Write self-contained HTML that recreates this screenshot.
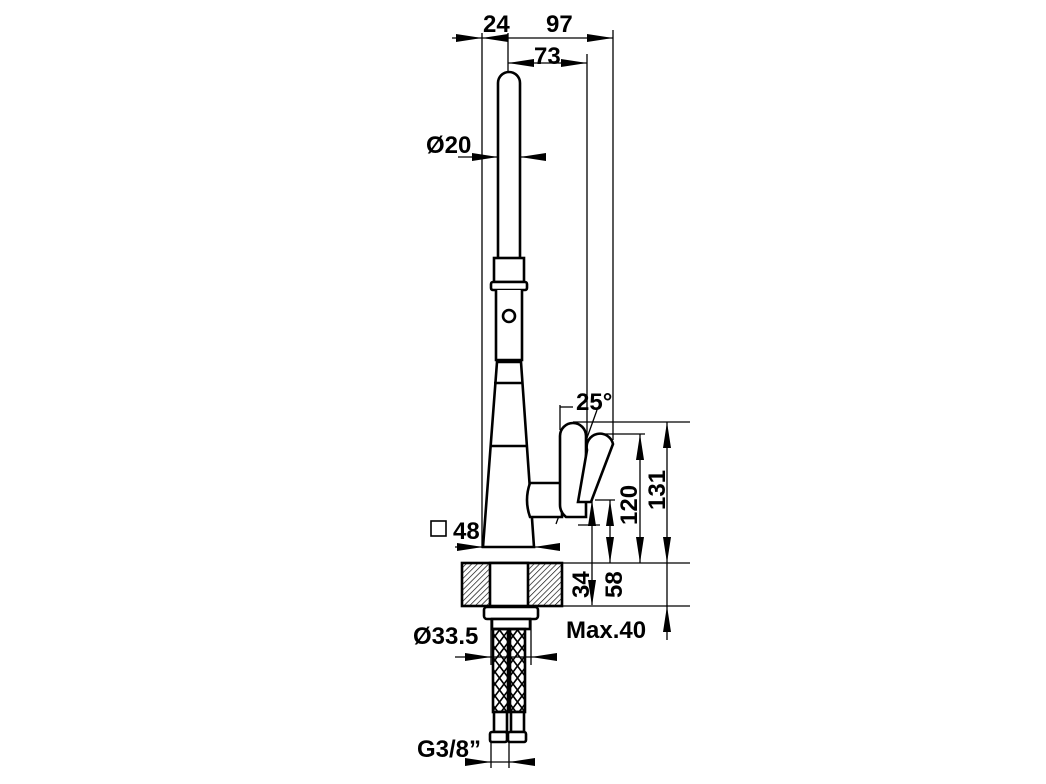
<!DOCTYPE html>
<html><head><meta charset="utf-8"><style>body{margin:0;background:#fff}svg{display:block}text{font-family:"Liberation Sans",Arial,sans-serif;font-weight:bold;fill:#000}</style></head>
<body>
<svg width="1046" height="784" viewBox="0 0 1046 784" xmlns="http://www.w3.org/2000/svg">
<defs>
<pattern id="h" width="4" height="4" patternUnits="userSpaceOnUse" patternTransform="rotate(45)"><line x1="0" y1="0" x2="0" y2="4" stroke="#000" stroke-width="1.3"/></pattern>
<pattern id="x" width="9" height="12" patternUnits="userSpaceOnUse"><path d="M0 0L9 12M9 0L0 12" stroke="#000" stroke-width="1.6"/></pattern>
</defs>
<g stroke="#000" stroke-width="1.3" fill="none">
<line x1="482" y1="33" x2="482" y2="548"/>
<line x1="508" y1="33" x2="508" y2="72"/>
<line x1="613" y1="30" x2="613" y2="440"/>
<line x1="587" y1="54" x2="587" y2="440"/>
<line x1="452" y1="38" x2="613" y2="38"/>
<line x1="508" y1="63" x2="587" y2="63"/>
<line x1="458" y1="157" x2="546" y2="157"/>
<line x1="455" y1="547" x2="560" y2="547"/>
<line x1="455" y1="657" x2="555" y2="657"/>
<line x1="466" y1="762" x2="535" y2="762"/>
<line x1="491" y1="620" x2="491" y2="665"/>
<line x1="531" y1="620" x2="531" y2="665"/>
<line x1="491" y1="740" x2="491" y2="768"/>
<line x1="509" y1="740" x2="509" y2="768"/>
<line x1="562" y1="563" x2="690" y2="563"/>
<line x1="562" y1="606" x2="690" y2="606"/>
<line x1="573" y1="422" x2="690" y2="422"/>
<line x1="600" y1="434" x2="645" y2="434"/>
<line x1="595" y1="500" x2="615" y2="500"/>
<line x1="667" y1="422" x2="667" y2="640"/>
<line x1="640" y1="434" x2="640" y2="563"/>
<line x1="610" y1="500" x2="610" y2="563"/>
<line x1="592" y1="500" x2="592" y2="605"/>
<line x1="560" y1="405" x2="560" y2="430"/>
<line x1="560" y1="407" x2="573" y2="407"/>
<line x1="597" y1="410" x2="556" y2="524"/>
<line x1="578" y1="525" x2="600" y2="525"/>
</g>
<g fill="#000">
<path d="M482 38l-26-4v8z"/><path d="M482 38l26-4v8z"/><path d="M613 38l-26-4v8z"/>
<path d="M508 63l26-4v8z"/><path d="M587 63l-26-4v8z"/>
<path d="M498 157l-26-4v8z"/><path d="M520 157l26-4v8z"/>
<path d="M483 547l-26-4v8z"/><path d="M534 547l26-4v8z"/>
<path d="M491 657l-26-4v8z"/><path d="M531 657l26-4v8z"/>
<path d="M491 762l-26-4v8z"/><path d="M509 762l26-4v8z"/>
<path d="M667 422l-4 26h8z"/><path d="M667 563l-4-26h8z"/><path d="M667 606l-4 26h8z"/>
<path d="M640 434l-4 26h8z"/><path d="M640 563l-4-26h8z"/>
<path d="M610 500l-4 26h8z"/><path d="M610 563l-4-26h8z"/>
<path d="M592 500l-4 26h8z"/><path d="M592 606l-4-26h8z"/>
</g>
<g stroke="#000" stroke-width="2.6" fill="#fff">
<path d="M498 258V83a11 11 0 0 1 22 0V258"/>
<rect x="494" y="258" width="30" height="24"/>
<rect x="491" y="282" width="36" height="8" rx="2"/>
<path d="M496 290V360H522V290"/>
<circle cx="509" cy="316" r="6"/>
<path d="M497 362L483 547H534L521 362Z"/>
<line x1="494" y1="383" x2="523" y2="383"/>
<line x1="490" y1="446" x2="528" y2="446"/>
<path d="M530 483H562V517H530Q524 500 530 483Z"/>
<path d="M560 436a13 13 0 0 1 26 0V517H566Q560 512 560 505Z"/>
<path d="M587 450a13 13 0 0 1 26 -6L591 502H578Z"/>
<rect x="462" y="563" width="100" height="43" fill="url(#h)"/>
<rect x="490" y="563" width="38" height="43"/>
<rect x="484" y="607" width="54" height="12" rx="3"/>
<rect x="492" y="619" width="38" height="10"/>
<rect x="493" y="629" width="15" height="83" fill="url(#x)"/>
<rect x="510" y="629" width="15" height="83" fill="url(#x)"/>
<rect x="494" y="712" width="13" height="20"/>
<rect x="511" y="712" width="13" height="20"/>
<rect x="490" y="732" width="17" height="10" rx="2"/>
<rect x="508" y="732" width="18" height="10" rx="2"/>
</g>
<g font-size="24">
<text x="483" y="32">24</text>
<text x="546" y="32">97</text>
<text x="534" y="64">73</text>
<text x="426" y="153">Ø20</text>
<text x="576" y="410">25°</text>
<text x="453" y="539">48</text>
<text x="413" y="644">Ø33.5</text>
<text x="417" y="757">G3/8”</text>
<text x="566" y="638">Max.40</text>
<text transform="translate(637 525) rotate(-90)">120</text>
<text transform="translate(665 510) rotate(-90)">131</text>
<text transform="translate(589 598) rotate(-90)">34</text>
<text transform="translate(622 598) rotate(-90)">58</text>
</g>
<rect x="431" y="521" width="15" height="15" fill="none" stroke="#000" stroke-width="1.6"/>
</svg>
</body></html>
